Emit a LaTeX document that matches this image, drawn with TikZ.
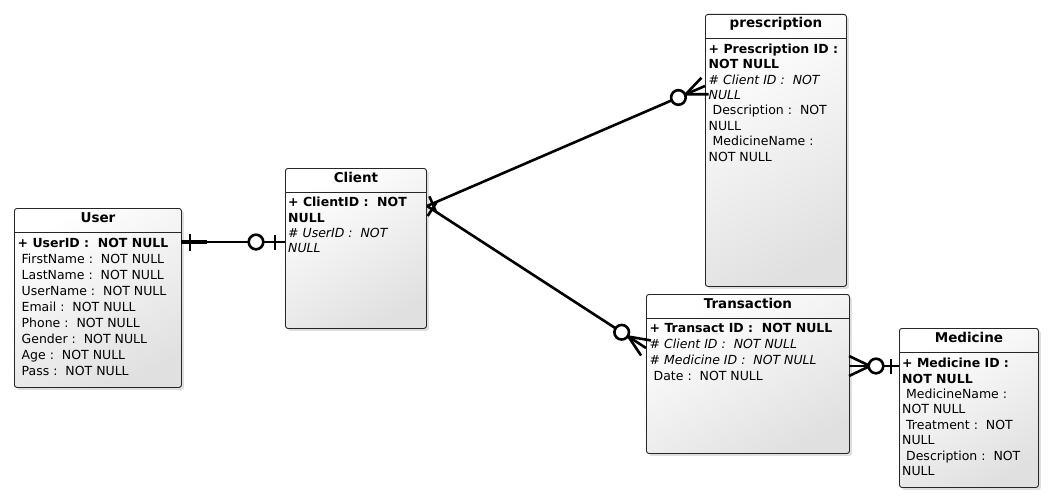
\documentclass[tikz,border=0pt]{standalone}
\usepackage{fontspec}
\setmainfont{DejaVu Sans}
\usetikzlibrary{calc,shadows}

% cardinality marks along a relation line
\newcommand\erbar[4]{\draw[cmark] ($(#1)!#3!(#2)!#4!90:(#2)$) -- ($(#1)!#3!(#2)!#4!-90:(#2)$);}
\newcommand\ercirc[3]{\draw[cmark, fill=white] ($(#1)!#3!(#2)$) circle[radius=7.3pt];}
\newcommand\ercrow[4]{\draw[cmark] ($(#1)!#4!90:(#2)$) -- ($(#1)!#3!(#2)$) -- ($(#1)!#4!-90:(#2)$);}

\begin{document}
\begin{tikzpicture}[x=1pt, y=-1pt,
  entity/.style={draw=black!85, line width=0.9pt, rounded corners=2.5pt,
    anchor=north west, inner sep=0pt,
    top color=white, bottom color=black!12, shading angle=30,
    drop shadow={shadow xshift=2.5pt, shadow yshift=-2.5pt, opacity=0.25}},
  hdr/.style={draw=black!85, line width=0.8pt},
  etitle/.style={anchor=base, inner sep=0pt, font=\fontsize{13.5}{16}\selectfont\bfseries},
  body/.style={anchor=north west, inner sep=0pt, align=left,
    font=\fontsize{12.5}{#1}\selectfont},
  body/.default=15.4,
  rel/.style={line width=2.6pt},
  cmark/.style={line width=2.6pt}]

\useasboundingbox (0,0) rectangle (1054,503);

% ---------- entities ----------
\node[entity, minimum width=167pt, minimum height=179pt] (user) at (14,208) {};
\node[entity, minimum width=141pt, minimum height=160pt] (client) at (285,168) {};
\node[entity, minimum width=141pt, minimum height=272pt] (presc) at (705,14) {};
\node[entity, minimum width=203pt, minimum height=159pt] (trans) at (646,294) {};
\node[entity, minimum width=139pt, minimum height=159pt] (med) at (899,328) {};

\foreach \e in {user,client,presc,trans,med}
  \draw[hdr] ([yshift=-24pt]\e.north west) -- ([yshift=-24pt]\e.north east);

% ---------- titles ----------
\node[etitle] (userT)   at ([yshift=-14pt]user.north)   {User};
\node[etitle] (clientT) at ([yshift=-14pt]client.north) {Client};
\node[etitle] (prescT)  at ([yshift=-14pt]presc.north)  {prescription};
\node[etitle] (transT)  at ([yshift=-14pt]trans.north)  {Transaction};
\node[etitle] (medT)    at ([yshift=-14pt]med.north)    {Medicine};

% ---------- attributes ----------
\node[body=16] (userB) at ([xshift=3.5pt, yshift=-29.5pt]user.north west)
  {\rule{0pt}{9.5pt}\textbf{+ UserID :\ \ NOT NULL}\\
   \ FirstName :\ \ NOT NULL\\
   \ LastName :\ \ NOT NULL\\
   \ UserName :\ \ NOT NULL\\
   \ Email :\ \ NOT NULL\\
   \ Phone :\ \ NOT NULL\\
   \ Gender :\ \ NOT NULL\\
   \ Age :\ \ NOT NULL\\
   \ Pass :\ \ NOT NULL};

\node[body] (clientB) at ([xshift=3pt, yshift=-29pt]client.north west)
  {\rule{0pt}{9.5pt}\textbf{+ ClientID :\ \ NOT}\\
   \textbf{NULL}\\
   \textit{\# UserID :\ \ NOT}\\
   \textit{NULL}};

\node[body] (prescB) at ([xshift=3.5pt, yshift=-29.5pt]presc.north west)
  {\rule{0pt}{9.5pt}\textbf{+ Prescription ID :}\\
   \textbf{NOT NULL}\\
   \textit{\# Client ID :\ \ NOT}\\
   \textit{NULL}\\
   \ Description :\ \ NOT\\
   NULL\\
   \ MedicineName :\\
   NOT NULL};

\node[body=16] (transB) at ([xshift=3.5pt, yshift=-28.5pt]trans.north west)
  {\rule{0pt}{9.5pt}\textbf{+ Transact ID :\ \ NOT NULL}\\
   \textit{\# Client ID :\ \ NOT NULL}\\
   \textit{\# Medicine ID :\ \ NOT NULL}\\
   \ Date :\ \ NOT NULL};

\node[body] (medB) at ([xshift=3pt, yshift=-30pt]med.north west)
  {\rule{0pt}{9.5pt}\textbf{+ Medicine ID :}\\
   \textbf{NOT NULL}\\
   \ MedicineName :\\
   NOT NULL\\
   \ Treatment :\ \ NOT\\
   NULL\\
   \ Description :\ \ NOT\\
   NULL};

% ---------- relation end points ----------
\coordinate (uE)  at (181,242);
\coordinate (cW)  at (285,242);
\coordinate (cE)  at (427,206);
\coordinate (pW)  at (705,86);
\coordinate (tW)  at (646,348);
\coordinate (tE)  at (849,366);
\coordinate (mW)  at (899,366);

% User -- Client
\draw[line width=2.2pt] (uE) -- (cW);
\draw[line width=3.4pt] (uE) -- ($(uE)!26pt!(cW)$);
\erbar{uE}{cW}{9pt}{8.5pt}
\erbar{cW}{uE}{10pt}{7.5pt}
\ercirc{cW}{uE}{29pt}

% Client -- prescription
\draw[rel] (cE) -- (pW);
\erbar{cE}{pW}{6pt}{8pt}
\ercrow{pW}{cE}{21pt}{9pt}
\ercirc{pW}{cE}{29pt}

% Client -- Transaction
\draw[rel] (cE) -- (tW);
\erbar{cE}{tW}{6pt}{8pt}
\ercrow{tW}{cE}{21pt}{9pt}
\ercirc{tW}{cE}{29pt}

% Transaction -- Medicine
\draw[rel] (tE) -- (mW);
\ercrow{tE}{mW}{21pt}{10pt}
\ercirc{mW}{tE}{23pt}
\erbar{mW}{tE}{8pt}{7.5pt}

\end{tikzpicture}
\end{document}
